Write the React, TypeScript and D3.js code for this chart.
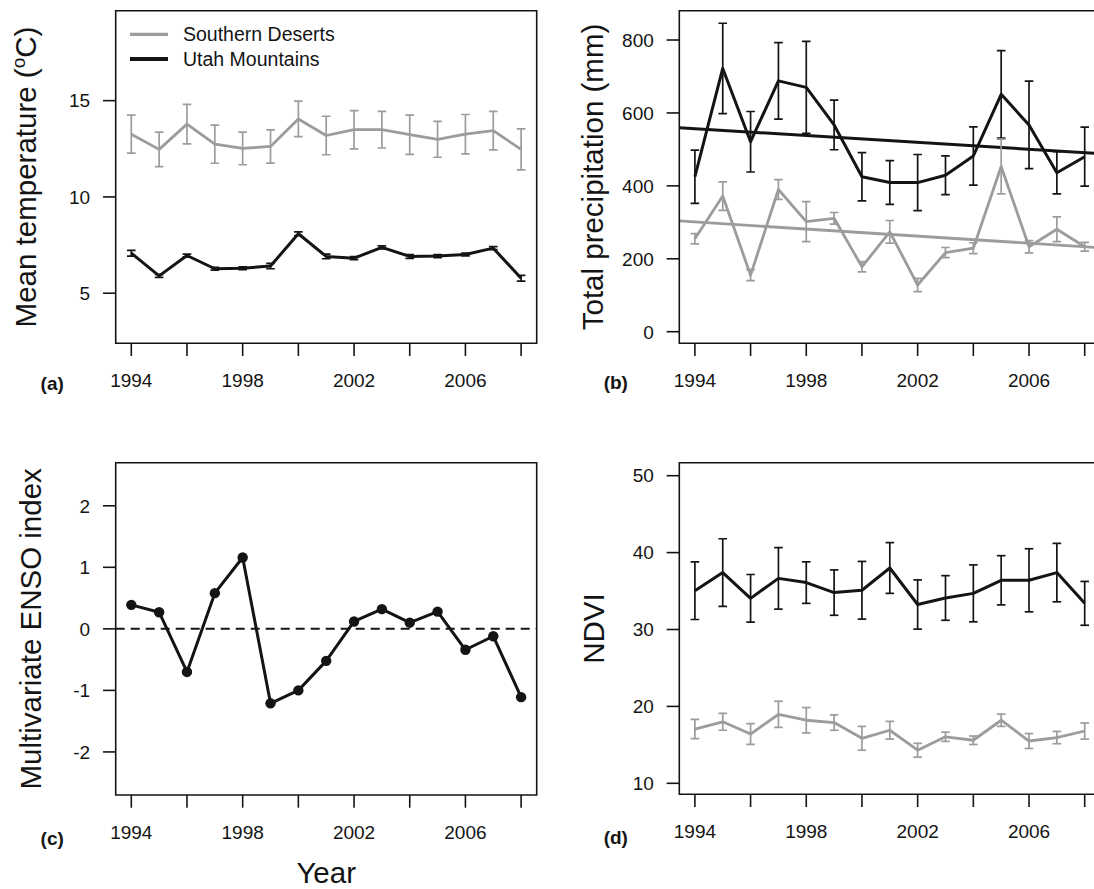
import React from 'react';
import * as d3 from 'd3';

// ---------- data ----------
const years = [1994, 1995, 1996, 1997, 1998, 1999, 2000, 2001, 2002, 2003, 2004, 2005, 2006, 2007, 2008];
const xTicks = [1994, 1996, 1998, 2000, 2002, 2004, 2006, 2008];
const xTickLabels = [1994, 1998, 2002, 2006];

const tempDesert = [13.26, 12.47, 13.78, 12.74, 12.52, 12.62, 14.05, 13.19, 13.49, 13.49, 13.23, 12.99, 13.26, 13.44, 12.47];
const tempDesertErr = [0.99, 0.9, 1.03, 0.99, 0.85, 0.86, 0.92, 1.0, 0.99, 0.95, 1.02, 0.93, 1.02, 1.0, 1.06];
const tempUtah = [7.08, 5.9, 6.96, 6.27, 6.3, 6.41, 8.09, 6.91, 6.82, 7.38, 6.91, 6.93, 7.01, 7.34, 5.78];
const tempUtahErr = [0.15, 0.08, 0.07, 0.07, 0.07, 0.14, 0.1, 0.12, 0.08, 0.08, 0.1, 0.08, 0.07, 0.08, 0.15];
const tempTicks = [5, 10, 15];

const precipUtah = [425, 722, 521, 688, 670, 567, 425, 409, 409, 429, 482, 651, 567, 436, 480];
const precipUtahErr = [73, 124, 83, 105, 126, 68, 66, 60, 77, 53, 80, 120, 120, 58, 81];
const precipDesert = [255, 372, 155, 390, 302, 311, 178, 274, 128, 217, 229, 453, 233, 281, 233];
const precipDesertErr = [14, 39, 15, 27, 55, 16, 14, 31, 18, 14, 15, 75, 17, 34, 12];
// fitted trend values at 1994 and 2008
const precipTrendUtah = [557, 491];
const precipTrendDesert = [301, 233];
const precipTicks = [0, 200, 400, 600, 800];

const enso = [0.39, 0.27, -0.7, 0.58, 1.16, -1.21, -1.0, -0.52, 0.12, 0.32, 0.1, 0.28, -0.34, -0.12, -1.11];
const ensoTicks = [-2, -1, 0, 1, 2];

const ndviUtah = [35.05, 37.4, 34.05, 36.65, 36.1, 34.8, 35.1, 38.0, 33.25, 34.1, 34.7, 36.4, 36.4, 37.4, 33.4];
const ndviUtahErr = [3.75, 4.4, 3.1, 4.0, 2.7, 2.95, 3.75, 3.3, 3.2, 2.9, 3.7, 3.2, 4.1, 3.8, 2.85];
const ndviDesert = [17.05, 18.0, 16.4, 18.97, 18.2, 17.9, 15.85, 16.9, 14.3, 16.05, 15.6, 18.2, 15.5, 15.95, 16.8];
const ndviDesertErr = [1.25, 1.1, 1.35, 1.7, 1.65, 1.0, 1.55, 1.15, 0.9, 0.6, 0.55, 0.8, 0.97, 0.8, 1.05];
const ndviTicks = [10, 20, 30, 40, 50];

const legendLabels = ['Southern Deserts', 'Utah Mountains'];

// ---------- style ----------
const GRAY = '#9c9c9c';
const BLACK = '#141414';
const FONT = '"Liberation Sans", Arial, Helvetica, sans-serif';
const TICK_FS = 19;
const LABEL_FS = 29.5;

type Series = {
  values: number[];
  errors?: number[];
  color: string;
  width: number;
  trend?: number[];
  points?: boolean;
};

type PanelProps = {
  frameLeft: number;
  frameRight: number;
  top: number;
  bottom: number;
  yDomain: [number, number];
  yTicks: number[];
  series: Series[];
  tag: string;
  tagBaseline: number;
  tickBaseline: number;
  yLabel: React.ReactNode;
  yLabelX: number;
  zeroLine?: boolean;
  showRight: boolean;
};

function Panel(p: PanelProps) {
  const x = d3.scaleLinear().domain([1993.44, 2008.56]).range([p.frameLeft, p.frameRight]);
  const y = d3.scaleLinear().domain(p.yDomain).range([p.bottom, p.top]);
  const clipId = 'clip' + p.tag;
  const line = d3
    .line<number>()
    .x((_, i) => x(years[i]))
    .y((d) => y(d));
  const cap = 4.3;
  const tickLen = 12.7;
  const yMid = (p.top + p.bottom) / 2;

  return (
    <g>
      <defs>
        <clipPath id={clipId}>
          <rect x={p.frameLeft} y={p.top} width={p.frameRight - p.frameLeft} height={p.bottom - p.top} />
        </clipPath>
      </defs>
      {/* data */}
      <g clipPath={`url(#${clipId})`}>
        {p.zeroLine && (
          <line
            x1={p.frameLeft}
            x2={p.frameRight}
            y1={y(0)}
            y2={y(0)}
            stroke={BLACK}
            strokeWidth={2}
            strokeDasharray="9,6"
          />
        )}
        {p.series.map((s, si) => {
          const trendScale = s.trend ? d3.scaleLinear().domain([1994, 2008]).range(s.trend) : null;
          return (
            <g key={si}>
              {trendScale && (
                <line
                  x1={p.frameLeft}
                  x2={p.frameRight}
                  y1={y(trendScale(x.invert(p.frameLeft)))}
                  y2={y(trendScale(x.invert(p.frameRight)))}
                  stroke={s.color}
                  strokeWidth={s.width}
                />
              )}
              {s.errors &&
                s.values.map((v, i) => {
                  const e = s.errors![i];
                  const cx = x(years[i]);
                  return (
                    <g key={i} stroke={s.color} strokeWidth={1.7}>
                      <line x1={cx} x2={cx} y1={y(v - e)} y2={y(v + e)} />
                      <line x1={cx - cap} x2={cx + cap} y1={y(v - e)} y2={y(v - e)} />
                      <line x1={cx - cap} x2={cx + cap} y1={y(v + e)} y2={y(v + e)} />
                    </g>
                  );
                })}
              <path d={line(s.values) || ''} fill="none" stroke={s.color} strokeWidth={s.width} strokeLinejoin="round" />
              {s.points &&
                s.values.map((v, i) => <circle key={i} cx={x(years[i])} cy={y(v)} r={5.2} fill={s.color} />)}
            </g>
          );
        })}
      </g>
      {/* frame */}
      <path
        d={`M${p.frameRight},${p.top}H${p.frameLeft}V${p.bottom}H${p.frameRight}${p.showRight ? 'Z' : ''}`}
        fill="none"
        stroke={BLACK}
        strokeWidth={1.6}
      />
      {/* x axis */}
      {xTicks.map((t) => (
        <line key={t} x1={x(t)} x2={x(t)} y1={p.bottom} y2={p.bottom + tickLen} stroke={BLACK} strokeWidth={1.6} />
      ))}
      {xTickLabels.map((t) => (
        <text key={t} x={x(t)} y={p.tickBaseline} textAnchor="middle" fontSize={TICK_FS} fontFamily={FONT} fill={BLACK}>
          {t}
        </text>
      ))}
      {/* y axis */}
      {p.yTicks.map((t) => (
        <g key={t}>
          <line x1={p.frameLeft - tickLen} x2={p.frameLeft} y1={y(t)} y2={y(t)} stroke={BLACK} strokeWidth={1.6} />
          <text
            x={p.frameLeft - 25.5}
            y={y(t) + 6.8}
            textAnchor="end"
            fontSize={TICK_FS}
            fontFamily={FONT}
            fill={BLACK}
          >
            {t}
          </text>
        </g>
      ))}
      <text
        transform={`translate(${p.yLabelX},${yMid}) rotate(-90)`}
        textAnchor="middle"
        fontSize={LABEL_FS}
        fontFamily={FONT}
        fill={BLACK}
      >
        {p.yLabel}
      </text>
      <text
        x={p.frameLeft - 63.5}
        y={p.tagBaseline}
        textAnchor="middle"
        fontSize={TICK_FS}
        fontWeight="bold"
        fontFamily={FONT}
        fill={BLACK}
      >
        {`(${p.tag})`}
      </text>
    </g>
  );
}

export default function App() {
  const L = 115.7;
  const R = 536.7;
  const L2 = 679.3;
  const R2 = 1100.3;
  return (
    <svg
      width={1094}
      height={889}
      style={{ position: 'absolute', left: 0, top: 0, background: '#fff' }}
      xmlns="http://www.w3.org/2000/svg"
    >
      <rect x={0} y={0} width={1094} height={889} fill="#fff" />
      <Panel
        frameLeft={L}
        frameRight={R}
        top={10.7}
        bottom={343.3}
        yDomain={[2.4, 19.67]}
        yTicks={tempTicks}
        series={[
          { values: tempDesert, errors: tempDesertErr, color: GRAY, width: 2.8 },
          { values: tempUtah, errors: tempUtahErr, color: BLACK, width: 3 },
        ]}
        tag="a"
        tagBaseline={390}
        tickBaseline={387}
        yLabelX={36}
        showRight={true}
        yLabel={
          <>
            Mean temperature (
            <tspan fontSize={19} dy={-11}>
              o
            </tspan>
            <tspan dy={11}>C)</tspan>
          </>
        }
      />
      {/* legend */}
      <g fontFamily={FONT} fontSize={19.5} fill={BLACK}>
        <line x1={130} x2={168} y1={34.3} y2={34.3} stroke={GRAY} strokeWidth={3.2} />
        <text x={183} y={41.3}>
          {legendLabels[0]}
        </text>
        <line x1={130} x2={168} y1={59} y2={59} stroke={BLACK} strokeWidth={3.8} />
        <text x={183} y={66}>
          {legendLabels[1]}
        </text>
      </g>
      <Panel
        frameLeft={L2}
        frameRight={R2}
        top={10.7}
        bottom={343.3}
        yDomain={[-31.8, 880.4]}
        yTicks={precipTicks}
        series={[
          { values: precipUtah, errors: precipUtahErr, color: BLACK, width: 3, trend: precipTrendUtah },
          { values: precipDesert, errors: precipDesertErr, color: GRAY, width: 2.8, trend: precipTrendDesert },
        ]}
        tag="b"
        tagBaseline={389}
        tickBaseline={387}
        yLabelX={603}
        showRight={false}
        yLabel="Total precipitation (mm)"
      />
      <Panel
        frameLeft={L}
        frameRight={R}
        top={462.7}
        bottom={795}
        yDomain={[-2.7, 2.7]}
        yTicks={ensoTicks}
        series={[{ values: enso, color: BLACK, width: 3, points: true }]}
        tag="c"
        tagBaseline={845}
        tickBaseline={839}
        yLabelX={40.5}
        showRight={true}
        zeroLine={true}
        yLabel="Multivariate ENSO index"
      />
      <Panel
        frameLeft={L2}
        frameRight={R2}
        top={462.7}
        bottom={794.3}
        yDomain={[8.57, 51.69]}
        yTicks={ndviTicks}
        series={[
          { values: ndviUtah, errors: ndviUtahErr, color: BLACK, width: 3 },
          { values: ndviDesert, errors: ndviDesertErr, color: GRAY, width: 2.8 },
        ]}
        tag="d"
        tagBaseline={844}
        tickBaseline={838}
        yLabelX={604}
        showRight={false}
        yLabel="NDVI"
      />
      <text x={(L + R) / 2} y={883} textAnchor="middle" fontSize={LABEL_FS} fontFamily={FONT} fill={BLACK}>
        Year
      </text>
    </svg>
  );
}
